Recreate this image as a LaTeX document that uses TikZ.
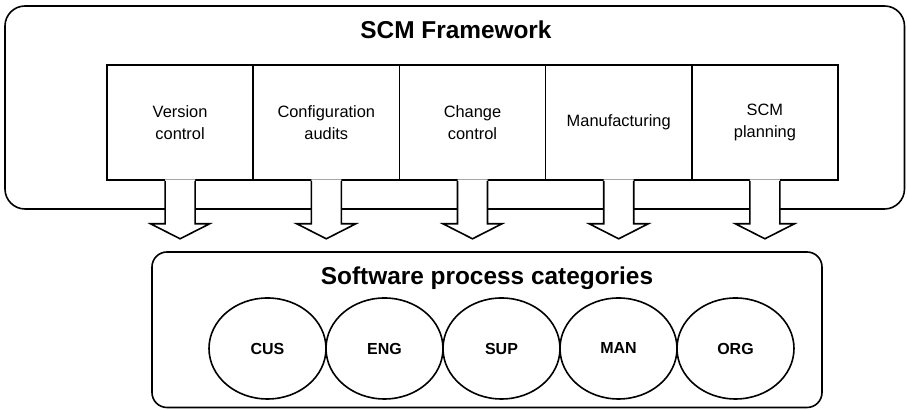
\documentclass[tikz,border=0pt]{standalone}
\usepackage{fontspec}
\setmainfont{Liberation Sans}
\usetikzlibrary{shapes.geometric,calc}

\begin{document}
\begin{tikzpicture}[x=0.5pt,y=-0.5pt,line width=0.8pt,
        module/.style={draw,minimum width=73.1pt,minimum height=57.5pt,align=center,font=\fontsize{8.2}{11}\selectfont},
        category/.style={draw,ellipse,inner sep=0pt,minimum width=58.5pt,minimum height=50.5pt,font=\fontsize{8}{10}\selectfont\bfseries},
        heading/.style={anchor=base,font=\fontsize{12.2}{14}\selectfont\bfseries}]
    \useasboundingbox (0,0) rectangle (907,410);

    % framework
    \draw[rounded corners=10pt] (5,6) rectangle (904.5,209);
    \node[heading] (scm) at (456,39) {SCM Framework};
    \foreach \i/\txt in {1/Version\\control,2/Configuration\\audits,3/Change\\control,4/Manufacturing,5/SCM\\planning} {
            \node[module] (m\i) at ({107+146.2*(\i-0.5)},122.5) {\txt};
        }

    % block arrows
    \foreach \i in {1,...,5} {
            \fill[white] ($(m\i.south)+(-15,-1.5)$) -- ++(0,44.5) -- ++(-14.5,0) -- ++(29.5,15) -- ++(29.5,-15) -- ++(-14.5,0) -- ++(0,-44.5) -- cycle;
            \draw ($(m\i.south)+(-15,0)$) -- ++(0,43) -- ++(-14.5,0) -- ++(29.5,15) -- ++(29.5,-15) -- ++(-14.5,0) -- ++(0,-43);
        }

    % process categories
    \draw[rounded corners=7.5pt] (152,252) rectangle (822,407.5);
    \node[heading] (spc) at (487,285) {Software process categories};
    \foreach \i/\txt in {1/CUS,2/ENG,3/SUP,4/MAN,5/ORG} {
            \node[category] (c\i) at ({267.5+117*(\i-1)},348.5) {\txt};
        }
\end{tikzpicture}
\end{document}
